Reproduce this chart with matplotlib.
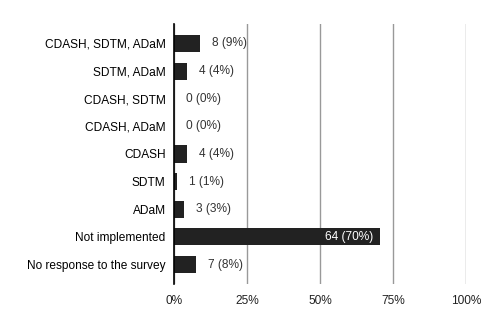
import numpy as np
import matplotlib.pyplot as plt

plt.rcParams['font.family'] = ['Liberation Sans', 'DejaVu Sans']

categories = ['CDASH, SDTM, ADaM', 'SDTM, ADaM', 'CDASH, SDTM', 'CDASH, ADaM',
              'CDASH', 'SDTM', 'ADaM', 'Not implemented', 'No response to the survey']
counts = [8, 4, 0, 0, 4, 1, 3, 64, 7]
total = 91
ticks = [0, 25, 50, 75, 100]
tick_labels = ['0%', '25%', '50%', '75%', '100%']

pct = [c / total * 100 for c in counts]

fig = plt.figure(figsize=(5.04, 3.16), dpi=100)
ax = fig.add_axes([174 / 504, 1 - 284 / 316, 292.3 / 504, 260 / 316])

y = np.arange(len(categories))
ax.barh(y, pct, height=0.62, color='#222222', zorder=3)

for i, (c, p) in enumerate(zip(counts, pct)):
    lab = f'{c} ({round(p)}%)'
    if p > 50:
        ax.text(p - 2, i, lab, color='white', va='center', ha='right', fontsize=8.6, zorder=4)
    else:
        ax.text(p + 4.1, i, lab, color='#333333', va='center', ha='left', fontsize=8.6, zorder=4)

ax.set_xlim(0, 100)
ax.set_ylim(len(categories) - 1 + 0.705, -0.705)
ax.set_yticks(y)
ax.set_yticklabels(categories, fontsize=8.6, color='black')
ax.set_xticks(ticks)
ax.set_xticklabels(tick_labels, fontsize=8.6, color='#222222')
ax.tick_params(axis='both', length=0)
ax.tick_params(axis='y', pad=6)
ax.tick_params(axis='x', pad=8)

ax.grid(axis='x', color='#999999', linewidth=1, zorder=0)
for s in ['top', 'right', 'bottom']:
    ax.spines[s].set_visible(False)
ax.spines['left'].set_color('black')
ax.spines['left'].set_linewidth(1.2)
ax.spines['left'].set_zorder(5)

fig.savefig('out.png', dpi=100)
